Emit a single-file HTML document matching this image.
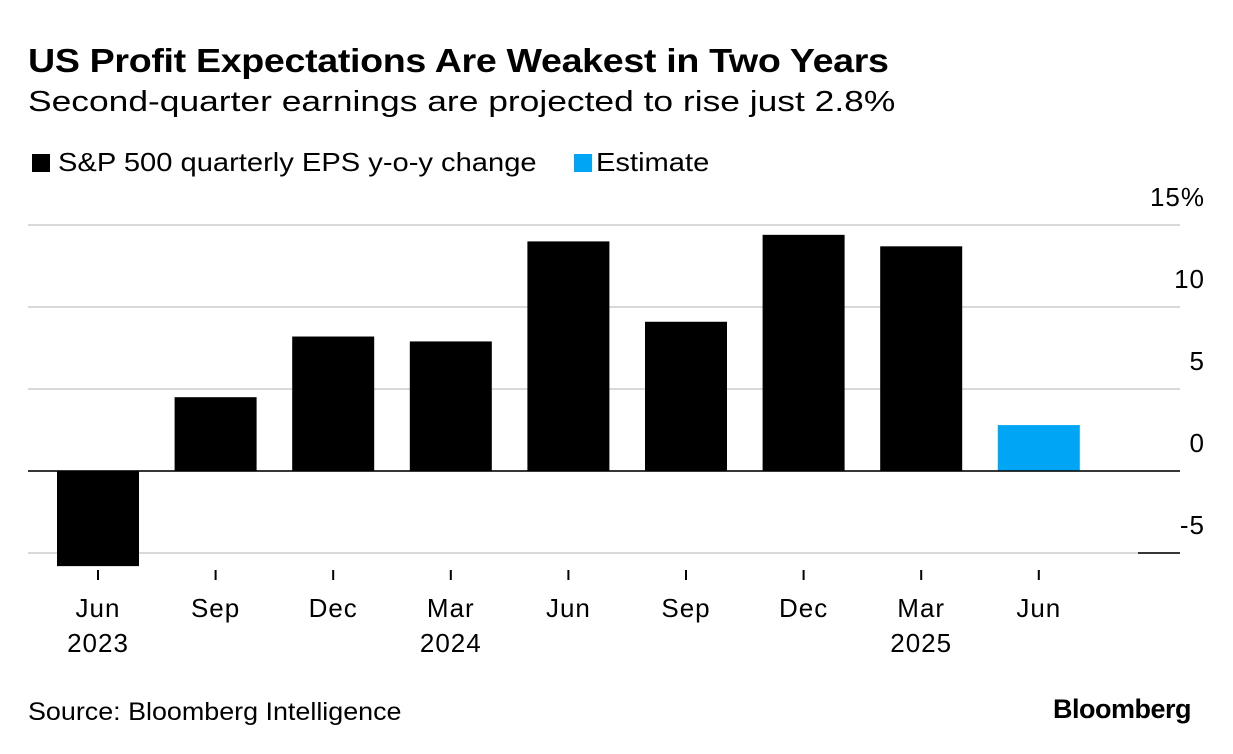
<!DOCTYPE html>
<html><head><meta charset="utf-8"><style>
body{margin:0;background:#fff;font-family:"Liberation Sans",sans-serif;}
#wrap{position:relative;width:1233px;height:754px;overflow:hidden;}
.t{position:absolute;white-space:nowrap;color:#000;transform-origin:0 0;}
</style></head><body>
<div id="wrap">
<div class="t" style="left:28px;top:42px;font-size:33px;font-weight:bold;letter-spacing:-0.3px;transform:scaleX(1.14)">US Profit Expectations Are Weakest in Two Years</div>
<div class="t" style="left:28px;top:86px;font-size:29px;transform:scaleX(1.22)">Second-quarter earnings are projected to rise just 2.8%</div>
<div class="t" style="left:32px;top:147px;font-size:26px"><span style="display:inline-block;width:18px;height:18px;background:#000;margin-right:8px;vertical-align:-1px"></span><span style="display:inline-block;transform:scaleX(1.12);transform-origin:0 0">S&amp;P 500 quarterly EPS y-o-y change</span></div>
<div class="t" style="left:574px;top:147px;font-size:26px"><span style="display:inline-block;width:18px;height:18px;background:#00a6f6;margin-right:4px;vertical-align:-1px"></span><span style="display:inline-block;transform:scaleX(1.12);transform-origin:0 0">Estimate</span></div>
<svg id="chart" width="1233" height="754" style="position:absolute;left:0;top:0"></svg>
<div class="t" style="left:28px;top:698px;font-size:25px;transform:scaleX(1.075)">Source: Bloomberg Intelligence</div>
<div class="t" style="left:1053px;top:694px;font-size:27px;font-weight:bold;letter-spacing:-0.5px">Bloomberg</div>
</div>
<script>
const months=["Jun","Sep","Dec","Mar","Jun","Sep","Dec","Mar","Jun"];
const years=["2023","","","2024","","","","2025",""];
const values=[-5.8,4.5,8.2,7.9,14.0,9.1,14.4,13.7,2.8];
const isEstimate=[false,false,false,false,false,false,false,false,true];
const yTicks=[15,10,5,0,-5];
const tickLabels=["15%","10","5","0","-5"];
const NS="http://www.w3.org/2000/svg";
const svg=document.getElementById('chart');
const y=v=>471-v*16.4;
const x=i=>98+i*117.6;
function mk(tag,attrs){const e=document.createElementNS(NS,tag);for(const k in attrs)e.setAttribute(k,attrs[k]);svg.appendChild(e);return e;}
const font={'font-size':26,'font-family':'Liberation Sans, sans-serif','letter-spacing':1};
yTicks.forEach((v,i)=>{
  const g=mk('line',{x1:28,x2:1180,y1:y(v),y2:y(v),stroke:'#d9d9d9','stroke-width':2});
  
  
  const t=mk('text',Object.assign({x:1205,y:y(v)-19,'text-anchor':'end'},font));
  t.textContent=tickLabels[i];
  
  
});
values.forEach((v,i)=>{
  const top=Math.min(y(v),y(0)),h=Math.abs(y(v)-y(0));
  const r=mk('rect',{x:x(i)-41,y:top,width:82,height:h,fill:isEstimate[i]?'#00a6f6':'#000'});
  
  
  const tk=mk('line',{x1:x(i),x2:x(i),y1:570,y2:580,stroke:'#000','stroke-width':2});
  
  
  const m=mk('text',Object.assign({x:x(i),y:617,'text-anchor':'middle'},font));
  m.textContent=months[i];
  
  
  if(years[i]){const yt=mk('text',Object.assign({x:x(i),y:652,'text-anchor':'middle'},font));
  yt.textContent=years[i];
  
  }
});
const z=mk('line',{x1:28,x2:1180,y1:y(0),y2:y(0),stroke:'#000','stroke-width':1.5});


const n=mk('line',{x1:1138,x2:1180,y1:y(-5),y2:y(-5),stroke:'#000','stroke-width':1.5});


</script>
</body></html>
